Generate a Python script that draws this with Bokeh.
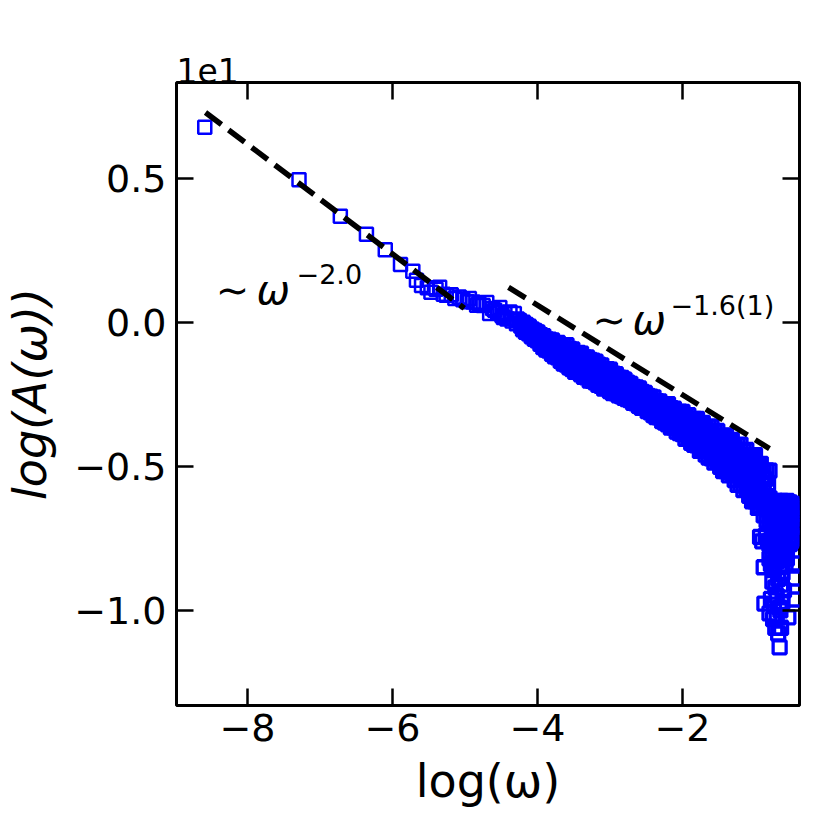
from bokeh.plotting import figure
from bokeh.models import Range1d, LinearAxis, FixedTicker, CustomJSTickFormatter, Label, ColumnDataSource
from bokeh.embed import file_html
from bokeh.resources import INLINE

# ---- data (x = log(omega), y = log(A(omega)) in real units; axis shows y/10) ----
sparse_x = [-8.59, -7.29, -6.72, -6.36, -6.10, -5.89, -5.72, -5.67, -5.60, -5.52, -5.47, -5.40,
            -5.35, -5.30, -5.26, -5.19, -5.14, -5.08, -5.03, -4.97, -4.94, -4.89, -4.84, -4.81,
            -4.75, -4.70, -4.66, -4.62, -4.59, -4.55, -4.52, -4.49, -4.47, -4.45, -4.42, -4.38,
            -4.35, -4.32, -4.29, -4.28, -4.25, -4.23]
sparse_y = [6.78, 4.95, 3.69, 3.06, 2.52, 2.01, 1.78, 1.46, 1.28, 1.20, 1.05, 1.15,
            1.22, 0.98, 0.94, 0.96, 0.83, 0.88, 0.79, 0.72, 0.83, 0.71, 0.60, 0.66,
            0.59, 0.69, 0.31, 0.48, 0.42, 0.35, 0.52, 0.24, 0.17, 0.30, 0.12, 0.36,
            0.05, 0.31, -0.05, 0.12, 0.07, -0.12]

band_x = [-4.20, -4.16, -4.12, -4.08, -4.04, -4.00, -3.96, -3.92, -3.88, -3.84,
          -3.80, -3.76, -3.72, -3.68, -3.64, -3.60, -3.56, -3.52, -3.48, -3.44,
          -3.40, -3.36, -3.32, -3.28, -3.24, -3.20, -3.16, -3.12, -3.08, -3.04,
          -3.00, -2.96, -2.92, -2.88, -2.84, -2.80, -2.76, -2.72, -2.68, -2.64,
          -2.60, -2.56, -2.52, -2.48, -2.44, -2.40, -2.36, -2.32, -2.28, -2.24,
          -2.20, -2.16, -2.12, -2.08, -2.04, -2.00, -1.96, -1.92, -1.88, -1.84,
          -1.80, -1.76, -1.72, -1.68, -1.64, -1.60, -1.56, -1.52, -1.48, -1.44,
          -1.40, -1.36, -1.32, -1.28, -1.24, -1.20, -1.16, -1.12, -1.08, -1.04,
          -1.00, -0.96, -0.92, -0.88, -0.84, -0.80]
band_hi = [-0.01, -0.09, -0.15, -0.24, -0.29, -0.35, -0.44, -0.48, -0.59, -0.60,
           -0.62, -0.72, -0.71, -0.83, -0.80, -0.79, -0.92, -0.94, -1.08, -1.06,
           -1.08, -1.21, -1.21, -1.30, -1.33, -1.36, -1.47, -1.49, -1.62, -1.62,
           -1.64, -1.78, -1.80, -1.92, -1.93, -1.99, -2.09, -2.13, -2.24, -2.26,
           -2.29, -2.41, -2.45, -2.55, -2.58, -2.60, -2.73, -2.74, -2.86, -2.86,
           -2.84, -2.98, -2.99, -3.12, -3.10, -3.11, -3.25, -3.22, -3.40, -3.35,
           -3.35, -3.51, -3.49, -3.67, -3.62, -3.62, -3.79, -3.77, -3.99, -3.94,
           -3.92, -4.12, -4.08, -4.33, -4.27, -4.24, -4.47, -4.43, -4.70, -4.64,
           -4.61, -4.93, -4.91, -5.21, -5.14, -5.15]
band_mid = [-0.12, -0.21, -0.26, -0.36, -0.41, -0.52, -0.56, -0.68, -0.72, -0.82,
            -0.85, -0.96, -0.98, -1.09, -1.08, -1.21, -1.23, -1.33, -1.32, -1.44,
            -1.46, -1.49, -1.61, -1.60, -1.72, -1.75, -1.77, -1.89, -1.90, -2.00,
            -2.02, -2.05, -2.18, -2.17, -2.28, -2.31, -2.35, -2.47, -2.47, -2.58,
            -2.61, -2.64, -2.77, -2.79, -2.89, -2.92, -2.95, -3.08, -3.09, -3.20,
            -3.22, -3.24, -3.39, -3.40, -3.52, -3.53, -3.56, -3.71, -3.72, -3.85,
            -3.86, -3.88, -4.06, -4.06, -4.20, -4.20, -4.22, -4.42, -4.42, -4.58,
            -4.57, -4.61, -4.81, -4.80, -4.98, -4.97, -5.02, -5.26, -5.25, -5.45,
            -5.45, -5.52, -5.82, -5.84, -6.08, -6.10]
band_lo = [-0.24, -0.33, -0.38, -0.48, -0.57, -0.62, -0.74, -0.86, -0.94, -0.98,
           -1.09, -1.18, -1.21, -1.33, -1.43, -1.46, -1.56, -1.62, -1.72, -1.71,
           -1.80, -1.89, -1.91, -2.02, -2.03, -2.08, -2.17, -2.20, -2.30, -2.28,
           -2.38, -2.45, -2.45, -2.53, -2.56, -2.62, -2.66, -2.70, -2.79, -2.81,
           -2.90, -2.97, -2.96, -3.08, -3.12, -3.22, -3.29, -3.30, -3.43, -3.48,
           -3.54, -3.65, -3.64, -3.79, -3.84, -3.88, -4.04, -4.01, -4.18, -4.25,
           -4.27, -4.46, -4.41, -4.59, -4.69, -4.72, -4.87, -4.81, -5.01, -5.16,
           -5.16, -5.31, -5.24, -5.47, -5.64, -5.63, -5.82, -5.74, -6.02, -6.21,
           -6.21, -6.44, -6.40, -6.70, -6.88, -6.95]

fill_x = [-4.18, -4.14, -4.10, -4.06, -4.02, -3.98, -3.94, -3.90, -3.86, -3.82,
          -3.78, -3.74, -3.70, -3.66, -3.62, -3.58, -3.54, -3.50, -3.46, -3.42,
          -3.38, -3.34, -3.30, -3.26, -3.22, -3.18, -3.14, -3.10, -3.06, -3.02,
          -2.98, -2.94, -2.90, -2.86, -2.82, -2.78, -2.74, -2.70, -2.66, -2.62,
          -2.58, -2.54, -2.50, -2.46, -2.42, -2.38, -2.34, -2.30, -2.26, -2.22,
          -2.18, -2.14, -2.10, -2.06, -2.02, -1.98, -1.94, -1.90, -1.86, -1.82,
          -1.78, -1.74, -1.70, -1.66, -1.62, -1.58, -1.54, -1.50, -1.46, -1.42,
          -1.38, -1.34, -1.30, -1.26, -1.22, -1.18, -1.14, -1.10, -1.06, -1.02,
          -0.98, -0.94, -0.90, -0.86, -0.82]
fill_up = [-0.10, -0.17, -0.25, -0.31, -0.40, -0.45, -0.52, -0.61, -0.66, -0.72,
           -0.78, -0.81, -0.88, -0.91, -0.96, -1.02, -1.07, -1.13, -1.19, -1.23,
           -1.30, -1.35, -1.42, -1.46, -1.53, -1.57, -1.64, -1.69, -1.74, -1.81,
           -1.86, -1.93, -1.99, -2.05, -2.11, -2.18, -2.25, -2.31, -2.37, -2.43,
           -2.49, -2.55, -2.61, -2.68, -2.74, -2.80, -2.85, -2.91, -2.96, -3.01,
           -3.07, -3.12, -3.18, -3.24, -3.29, -3.35, -3.40, -3.47, -3.52, -3.58,
           -3.62, -3.71, -3.74, -3.85, -3.86, -3.96, -4.00, -4.10, -4.14, -4.20,
           -4.30, -4.34, -4.45, -4.48, -4.59, -4.63, -4.75, -4.80, -4.91, -4.97,
           -5.10, -5.20, -5.34, -5.45, -5.58]
fill_low = [-0.22, -0.30, -0.38, -0.45, -0.54, -0.62, -0.71, -0.80, -0.87, -0.96,
            -1.03, -1.10, -1.17, -1.24, -1.32, -1.38, -1.45, -1.50, -1.56, -1.62,
            -1.68, -1.74, -1.79, -1.85, -1.90, -1.96, -2.02, -2.07, -2.13, -2.18,
            -2.24, -2.29, -2.34, -2.39, -2.45, -2.50, -2.55, -2.61, -2.67, -2.73,
            -2.79, -2.85, -2.92, -2.98, -3.04, -3.10, -3.17, -3.23, -3.30, -3.37,
            -3.43, -3.50, -3.57, -3.64, -3.71, -3.78, -3.86, -3.93, -4.00, -4.08,
            -4.15, -4.24, -4.30, -4.40, -4.44, -4.55, -4.60, -4.70, -4.79, -4.84,
            -4.95, -5.02, -5.12, -5.21, -5.28, -5.40, -5.47, -5.61, -5.69, -5.83,
            -5.92, -6.09, -6.20, -6.37, -6.47]

tail_x = [-0.76, -0.72, -0.68, -0.64, -0.60, -0.56, -0.52, -0.48, -0.45,
          -0.82, -0.78, -0.74, -0.70, -0.66, -0.62, -0.58, -0.54, -0.50, -0.46,
          -0.78, -0.74, -0.70, -0.66, -0.62, -0.58, -0.54, -0.50, -0.46,
          -0.80, -0.76, -0.72, -0.68, -0.64, -0.60, -0.56, -0.52, -0.48, -0.45,
          -0.76, -0.72, -0.68, -0.64, -0.60, -0.56, -0.52, -0.48, -0.45,
          -0.85, -0.80, -0.76, -0.72, -0.68, -0.64, -0.60, -0.56, -0.52,
          -0.82, -0.78, -0.74, -0.70, -0.66, -0.62, -0.58, -0.54, -0.50,
          -0.80, -0.76, -0.72, -0.68, -0.64, -0.60, -0.56,
          -0.88, -0.78, -0.74, -0.70, -0.66, -0.62, -0.58, -0.45,
          -0.76, -0.72, -0.68, -0.64, -0.60, -0.45,
          -0.87, -0.78, -0.74, -0.70, -0.66, -0.62, -0.45,
          -0.80, -0.75, -0.70, -0.65, -0.54,
          -0.72, -0.68, -0.64, -0.66, -0.93, -0.90]
tail_y = [-6.3, -6.2, -6.25, -6.2, -6.3, -6.2, -6.25, -6.3, -6.4,
          -6.5, -6.45, -6.5, -6.4, -6.55, -6.45, -6.5, -6.4, -6.55, -6.5,
          -6.7, -6.8, -6.6, -6.9, -6.7, -6.8, -6.6, -6.9, -6.8,
          -7.0, -7.0, -6.95, -7.05, -6.95, -7.0, -7.05, -6.95, -7.0, -7.1,
          -7.2, -7.3, -7.1, -7.4, -7.2, -7.3, -7.1, -7.4, -7.5,
          -7.4, -7.7, -7.9, -7.8, -8.0, -7.9, -7.8, -8.0, -7.7,
          -7.6, -7.55, -7.6, -7.5, -7.65, -7.55, -7.6, -7.5, -7.6,
          -8.2, -8.1, -8.2, -8.15, -8.25, -8.1, -8.2,
          -8.5, -8.4, -8.6, -8.3, -8.5, -8.7, -8.4, -8.37,
          -9.0, -9.2, -8.9, -9.1, -9.3, -8.89,
          -9.76, -9.6, -9.8, -9.5, -9.9, -9.7, -9.62,
          -10.1, -10.3, -10.2, -10.0, -10.24,
          -10.6, -10.8, -10.6, -11.28, -7.45, -7.6]

fit1_x = [-8.58, -5.01]
fit1_y = [7.29, 0.49]
fit2_x = [-4.40, -0.80]
fit2_y = [1.22, -4.38]

x_ticks = [-8, -6, -4, -2]
y_ticks = [-10, -5, 0, 5]

# ---- assemble ----
sparse_src = ColumnDataSource(dict(x=sparse_x, y=sparse_y))
dense_src = ColumnDataSource(dict(
    x=band_x + band_x + band_x + fill_x + fill_x + tail_x,
    y=band_hi + band_mid + band_lo + fill_up + fill_low + tail_y))

FONT = "DejaVu Sans"

p = figure(frame_width=623, frame_height=623,
           min_border_left=175, min_border_right=26, min_border_top=82, min_border_bottom=116,
           x_range=Range1d(-8.98, -0.386), y_range=Range1d(-13.30, 8.33),
           output_backend="svg", toolbar_location=None,
           x_axis_label="log(ω)", y_axis_label="log(A(ω))")
p.background_fill_color = "white"
p.border_fill_color = "white"
p.xgrid.visible = False
p.ygrid.visible = False
p.outline_line_color = "black"
p.outline_line_width = 3
p.outline_line_alpha = 1.0

xax = p.below[0]
yax = p.left[0]

xfmt = CustomJSTickFormatter(code="return tick.toFixed(0).replace('-', '\u2212');")
yfmt = CustomJSTickFormatter(code="return (tick/10).toFixed(1).replace('-', '\u2212');")
blank = CustomJSTickFormatter(code="return '';")

xax.ticker = FixedTicker(ticks=x_ticks)
yax.ticker = FixedTicker(ticks=y_ticks)
xax.formatter = xfmt
yax.formatter = yfmt

top_axis = LinearAxis(ticker=FixedTicker(ticks=x_ticks), formatter=blank)
right_axis = LinearAxis(ticker=FixedTicker(ticks=y_ticks), formatter=blank)
p.add_layout(top_axis, "above")
p.add_layout(right_axis, "right")

for ax in [xax, yax, top_axis, right_axis]:
    ax.axis_line_color = None
    ax.major_tick_in = 17
    ax.major_tick_out = 0
    ax.major_tick_line_width = 2.5
    ax.major_tick_line_color = "black"
    ax.minor_tick_line_color = None
    ax.major_label_text_font = FONT
    ax.major_label_text_font_size = "38px"
    ax.major_label_text_color = "black"
    ax.axis_label_text_font = FONT
    ax.axis_label_text_font_size = "46px"
    ax.axis_label_text_color = "black"

for ax in [top_axis, right_axis]:
    ax.major_label_text_font_size = "10px"
    ax.major_label_standoff = 0

xax.major_label_standoff = 8
yax.major_label_standoff = 10
xax.axis_label_standoff = 10
yax.axis_label_standoff = 14
xax.axis_label_text_font_style = "normal"
yax.axis_label_text_font_style = "italic"

p.title.text = "1e1"
p.title.align = "left"
p.title.text_font = FONT
p.title.text_font_size = "33px"
p.title.text_font_style = "normal"
p.title.text_color = "black"
p.title.standoff = 0
p.title.offset = 0

p.scatter("x", "y", source=sparse_src, marker="square", size=13, fill_color=None,
          line_color="#0000ff", line_width=2.5)
p.scatter("x", "y", source=dense_src, marker="square", size=13, fill_color=None,
          line_color="#0000ff", line_width=3.3)

p.line(fit1_x, fit1_y, line_color="black", line_width=5.5, line_dash="20 9")
p.line(fit2_x, fit2_y, line_color="black", line_width=5.5, line_dash="20 9")

def lab(x, y, text, size, style="normal"):
    p.add_layout(Label(x=x, y=y, text=text, text_font=FONT, text_font_size=size,
                       text_font_style=style, text_color="black",
                       text_align="left", text_baseline="alphabetic"))

lab(-8.44, 1.11, "\u223c", "40px")
lab(-7.876, 1.11, "ω", "40px", "italic")
lab(-7.324, 1.667, "\u22122.0", "27px")
lab(-3.241, 0.069, "\u223c", "40px")
lab(-2.69, 0.069, "ω", "40px", "italic")
lab(-2.166, 0.59, "\u22121.6(1)", "27px")

open("out.html", "w").write(file_html(p, INLINE))
